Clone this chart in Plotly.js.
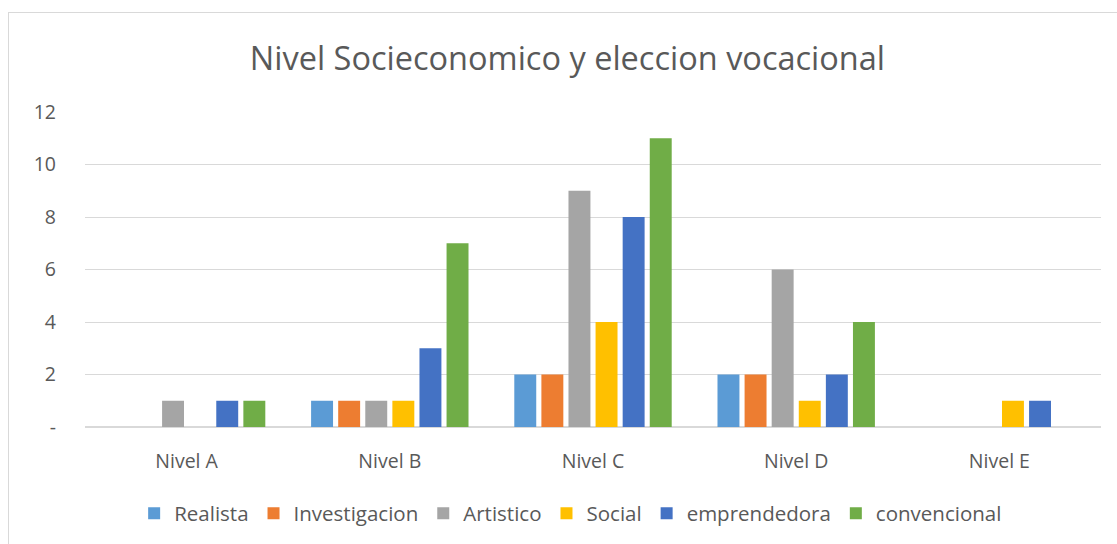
<!DOCTYPE html>
<html>
<head>
<meta charset="utf-8">
<script src="https://cdn.plot.ly/plotly-3.0.1.min.js"></script>
<style>
html,body{margin:0;padding:0;background:#fff;}
#wrap{position:relative;width:1117px;height:544px;}
#chart{width:1117px;height:544px;}
#frame{position:absolute;left:8px;top:12px;width:1120px;height:540px;border:1px solid #d9d9d9;pointer-events:none;box-sizing:border-box;}
</style>
</head>
<body>
<div id="wrap"><div id="chart"></div><div id="frame"></div></div>
<script>
const categories = ["Nivel A", "Nivel B", "Nivel C", "Nivel D", "Nivel E"];
const seriesNames = ["Realista", "Investigacion", "Artistico", "Social", "emprendedora", "convencional"];
const realista      = [0, 1, 2, 2, 0];
const investigacion = [0, 1, 2, 2, 0];
const artistico     = [1, 1, 9, 6, 0];
const social        = [0, 1, 4, 1, 1];
const emprendedora  = [1, 3, 8, 2, 1];
const convencional  = [1, 7, 11, 4, 0];
const colors = ["#5B9BD5", "#ED7D31", "#A5A5A5", "#FFC000", "#4472C4", "#70AD47"];
const tickVals = [0, 2, 4, 6, 8, 10, 12];
const tickText = ["-", "2", "4", "6", "8", "10", "12"];

const values = [realista, investigacion, artistico, social, emprendedora, convencional];
const font = "Open Sans, Liberation Sans, sans-serif";
const traces = values.map((v, i) => ({
  type: "bar",
  name: seriesNames[i],
  x: categories,
  y: v,
  marker: {color: colors[i], line: {width: 0}},
  hoverinfo: "x+y+name"
}));

const layout = {
  width: 1117, height: 544,
  paper_bgcolor: "#fff", plot_bgcolor: "#fff",
  margin: {l: 85, r: 16, t: 112, b: 116},
  title: {text: "Nivel Socieconomico y eleccion vocacional", x: 0.508, xanchor: "center", y: 0.893, yanchor: "middle",
          font: {family: font, size: 32.5, color: "#595959"}},
  barmode: "group",
  bargap: 0.2,
  bargroupgap: 0.19,
  xaxis: {
    showgrid: false, showline: false, zeroline: false,
    tickfont: {family: font, size: 19.5, color: "#595959"},
    ticks: "", ticklabelstandoff: 20
  },
  yaxis: {
    range: [0, 12], tickvals: tickVals, ticktext: tickText,
    showgrid: true, gridcolor: "#d9d9d9", gridwidth: 1,
    zeroline: true, zerolinecolor: "#d9d9d9", zerolinewidth: 1.5,
    showline: false, ticks: "",
    tickfont: {family: font, size: 19.5, color: "#595959"},
    ticklabelstandoff: 28
  },
  legend: {
    orientation: "h", x: 0.478, xanchor: "center", y: -0.27, yanchor: "middle",
    font: {family: font, size: 20.5, color: "#595959"},
    itemwidth: 30, traceorder: "normal"
  },
  showlegend: true
};
Plotly.newPlot("chart", traces, layout, {displayModeBar: false, staticPlot: true});
</script>
</body>
</html>
